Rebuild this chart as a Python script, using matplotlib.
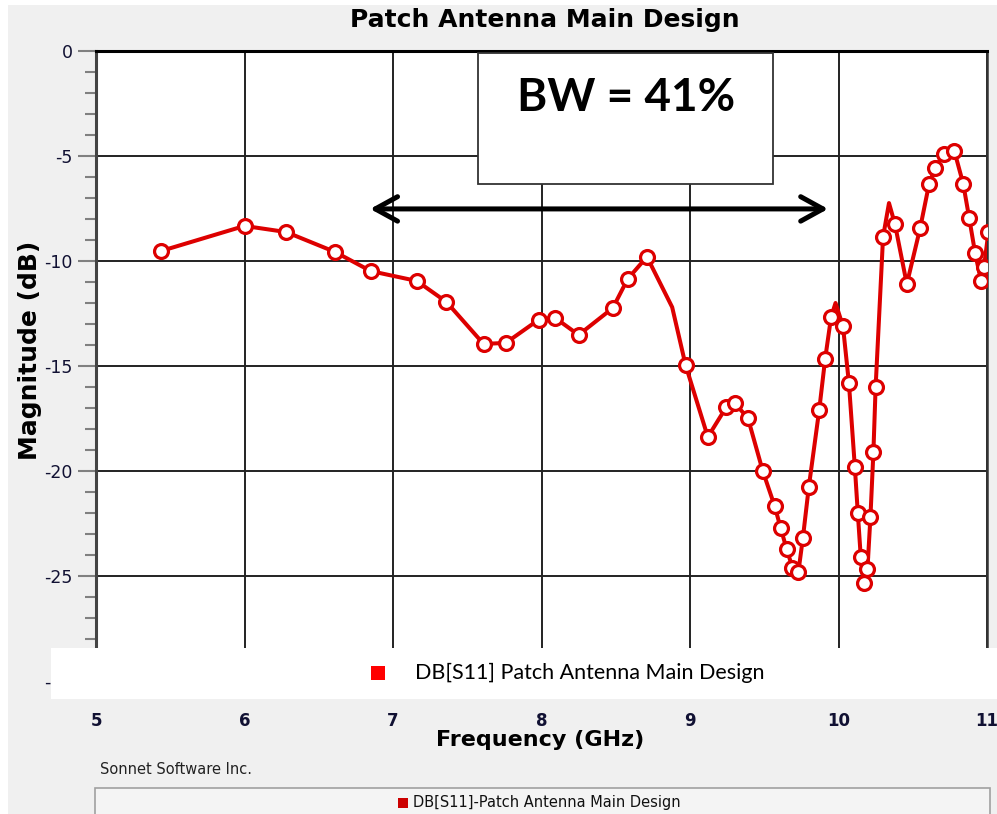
import numpy as np
import matplotlib
matplotlib.use("Agg")
from matplotlib import pyplot as plt
from matplotlib.patches import Rectangle

plt.rcParams["axes.unicode_minus"] = False

# S11 sweep (GHz, dB)
freq = [5.44, 6.00, 6.28, 6.61, 6.85, 7.16, 7.36, 7.61, 7.76, 7.98,
        8.09, 8.25, 8.48, 8.58, 8.71, 8.88, 8.97, 9.12, 9.245, 9.30,
        9.39, 9.49, 9.57, 9.61, 9.65, 9.69, 9.73, 9.76, 9.80, 9.87,
        9.91, 9.95, 9.98, 10.03, 10.07, 10.11, 10.13, 10.15, 10.17, 10.195,
        10.215, 10.235, 10.25, 10.30, 10.34, 10.38, 10.46, 10.55, 10.61, 10.65,
        10.71, 10.78, 10.84, 10.88, 10.92, 10.96, 10.98, 11.01]
mag = [-9.52, -8.33, -8.62, -9.57, -10.48, -10.95, -11.95, -13.95, -13.90, -12.80,
       -12.70, -13.52, -12.24, -10.86, -9.80, -12.20, -14.95, -18.38, -16.95, -16.76,
       -17.48, -20.00, -21.67, -22.70, -23.70, -24.60, -24.80, -23.20, -20.76, -17.10,
       -14.67, -12.67, -12.00, -13.10, -15.80, -19.80, -22.00, -24.10, -25.33, -24.67,
       -22.20, -19.10, -16.00, -8.86, -7.24, -8.24, -11.10, -8.43, -6.33, -5.57,
       -4.90, -4.76, -6.33, -7.95, -9.62, -10.95, -10.27, -8.60]
# samples that are only bends of the drawn curve, no marker
curve_only = [15, 32, 44]

xticks = [5, 6, 7, 8, 9, 10, 11]
yticks = [0, -5, -10, -15, -20, -25, -30]

title = "Patch Antenna Main Design"
series_name = "DB[S11] Patch Antenna Main Design"
bw_text = "BW = 41%"
bw_lo, bw_hi, bw_level = 6.846, 9.93, -7.52

W, H = 997, 814
fig = plt.figure(figsize=(W / 100, H / 100), dpi=100, facecolor="#f0f0f0")

def fx(px):
    return px / W

def fy(py):
    return 1 - py / H

# white strips along the left and top edges of the screenshot
fig.add_artist(Rectangle((0, 0), fx(8), 1, transform=fig.transFigure,
                         facecolor="white", edgecolor="none", zorder=0))
fig.add_artist(Rectangle((0, fy(5)), 1, 5 / H, transform=fig.transFigure,
                         facecolor="white", edgecolor="none", zorder=0))

ax = fig.add_axes([fx(96), fy(681), fx(987 - 96), fy(51) - fy(681)])
ax.set_facecolor("white")

marked = [i for i in range(len(freq)) if i not in curve_only]
ax.plot(freq, mag, color="#dd0000", lw=2.9, marker="o", markevery=marked,
        markersize=10, markerfacecolor="white", markeredgecolor="#dd0000",
        markeredgewidth=2.3, solid_joinstyle="round", zorder=3)

ax.set_xlim(5, 11)
ax.set_ylim(-30, 0)
ax.set_xticks(xticks)
ax.set_yticks(yticks)
ax.set_yticks(np.arange(-30, 0, 1), minor=True)
ax.grid(True, which="major", color="#222222", lw=1.4)
ax.tick_params(axis="x", length=0, pad=22, labelsize=12, labelcolor="#111133")
ax.tick_params(axis="y", which="major", length=13, width=1.5, color="#808080",
               pad=4, labelsize=12.5, labelcolor="#111133")
ax.tick_params(axis="y", which="minor", length=8, width=1.5, color="#808080")
for lab in ax.get_xticklabels():
    lab.set_fontweight("bold")
ax.spines["top"].set_linewidth(2.2)
ax.spines["top"].set_color("black")
ax.spines["left"].set_linewidth(2.2)
ax.spines["left"].set_color("#444444")
ax.spines["right"].set_linewidth(1.8)
ax.spines["right"].set_color("#333333")

# bandwidth arrow
ax.annotate("", xy=(bw_lo, bw_level), xytext=(bw_hi, bw_level),
            arrowprops=dict(arrowstyle="<->,head_length=1.0,head_width=0.55",
                            mutation_scale=16, lw=3.6, color="black",
                            shrinkA=0, shrinkB=0), zorder=4)

# BW label box
fig.add_artist(Rectangle((fx(478), fy(184)), fx(773 - 478), fy(53) - fy(184),
                         transform=fig.transFigure, facecolor="white",
                         edgecolor="#333333", lw=1.3, zorder=5))
fig.text(fx(626), fy(98), bw_text, ha="center", va="center", fontsize=33,
         fontweight="bold", family="Lato", zorder=6)

# pasted white legend strip
fig.add_artist(Rectangle((fx(51), fy(699)), 1 - fx(51), fy(648) - fy(699),
                         transform=fig.transFigure, facecolor="white",
                         edgecolor="none", zorder=5))
fig.add_artist(Rectangle((fx(371), fy(680)), fx(14), fy(666) - fy(680),
                         transform=fig.transFigure, facecolor="#ff0000",
                         edgecolor="none", zorder=6))
fig.text(fx(415), fy(673), series_name, ha="left", va="center", fontsize=15.5,
         family="Lato", zorder=6)

fig.text(fx(545), fy(20), title, ha="center", va="center", fontsize=18,
         fontweight="bold")
fig.text(fx(540), fy(740), "Frequency (GHz)", ha="center", va="center",
         fontsize=16, fontweight="bold")
fig.text(fx(30), fy(350), "Magnitude (dB)", ha="center", va="center",
         rotation=90, fontsize=18, fontweight="bold")

fig.text(fx(100), fy(770), "Sonnet Software Inc.", ha="left", va="center",
         fontsize=10.5, color="#222222")
fig.add_artist(Rectangle((fx(95), fy(830)), fx(990 - 95), fy(788) - fy(830),
                         transform=fig.transFigure, facecolor="#f4f4f4",
                         edgecolor="#a0a0a0", lw=1.2, zorder=1))
fig.add_artist(Rectangle((fx(398), fy(808)), fx(10), fy(798) - fy(808),
                         transform=fig.transFigure, facecolor="#cc0000",
                         edgecolor="none", zorder=2))
fig.text(fx(413), fy(803), "DB[S11]-Patch Antenna Main Design", ha="left",
         va="center", fontsize=10.5, color="#111111")

fig.savefig("out.png", dpi=100, facecolor=fig.get_facecolor())
